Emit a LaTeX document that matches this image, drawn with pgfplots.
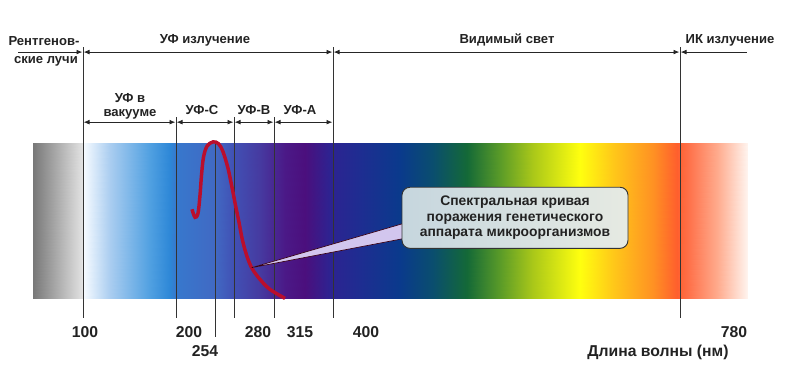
\documentclass[border=0pt]{standalone}
\usepackage{fontspec}
\setmainfont{Liberation Sans}[BoldFont={Liberation Sans Bold}]
\usepackage{pgfplots}
\pgfplotsset{compat=1.18}
\usetikzlibrary{arrows.meta}
\definecolor{txt}{HTML}{222222}
\definecolor{curvered}{HTML}{BA0E2C}
\definecolor{wedge}{HTML}{D2C6EE}
\definecolor{boxl}{HTML}{C6D6DE}
\definecolor{boxr}{HTML}{E6EAE2}
\newcommand\T{\fontsize{9.8}{11.5}\selectfont\bfseries\color{txt}}
\newcommand\TL{\fontsize{11.8}{13}\selectfont}
\newcommand\TC{\fontsize{10.4}{11.6}\selectfont}
\begin{document}
\T
\begin{tikzpicture}[every node/.style={font=\T, inner sep=0pt}]
\begin{axis}[
  width=600pt, height=291pt, scale only axis,
  xmin=0, xmax=800, ymin=0, ymax=388, y dir=reverse,
  hide axis, clip=false,
  colormap={spec}{
    rgb255(0pt)=(120,120,120) rgb255(1pt)=(225,225,225) rgb255(2pt)=(245,250,255)
    rgb255(3pt)=(170,205,240) rgb255(4pt)=(80,160,225) rgb255(5pt)=(45,135,215)
    rgb255(6pt)=(55,120,205) rgb255(7pt)=(65,105,195) rgb255(8pt)=(65,80,180)
    rgb255(9pt)=(70,58,160) rgb255(10pt)=(75,25,135) rgb255(11pt)=(75,15,125)
    rgb255(12pt)=(45,35,145) rgb255(13pt)=(30,45,145) rgb255(14pt)=(10,58,140)
    rgb255(15pt)=(10,78,110) rgb255(16pt)=(20,105,55) rgb255(17pt)=(90,155,40)
    rgb255(18pt)=(170,200,25) rgb255(19pt)=(255,255,15) rgb255(20pt)=(255,200,25)
    rgb255(21pt)=(255,145,35) rgb255(22pt)=(255,95,45) rgb255(23pt)=(255,110,70)
    rgb255(24pt)=(255,170,140) rgb255(25pt)=(255,245,240) rgb255(26pt)=(255,255,255)},
  point meta min=0, point meta max=26,
  every node/.append style={font=\T, inner sep=0pt},
  arr/.style={black!85, line width=0.7pt},
  vl/.style={black!80, line width=0.6pt},
]
% spectrum band
\addplot[patch, patch type=rectangle, shader=interp, point meta=explicit] coordinates {
 (33,143)[0] (82,143)[1] (82,298)[1] (33,298)[0]
 (82,143)[1] (84,143)[2] (84,298)[2] (82,298)[1]
 (84,143)[2] (110,143)[3] (110,298)[3] (84,298)[2]
 (110,143)[3] (150,143)[4] (150,298)[4] (110,298)[3]
 (150,143)[4] (170,143)[5] (170,298)[5] (150,298)[4]
 (170,143)[5] (176,143)[6] (176,298)[6] (170,298)[5]
 (176,143)[6] (215,143)[7] (215,298)[7] (176,298)[6]
 (215,143)[7] (234,143)[8] (234,298)[8] (215,298)[7]
 (234,143)[8] (260,143)[9] (260,298)[9] (234,298)[8]
 (260,143)[9] (285,143)[10] (285,298)[10] (260,298)[9]
 (285,143)[10] (305,143)[11] (305,298)[11] (285,298)[10]
 (305,143)[11] (330,143)[12] (330,298)[12] (305,298)[11]
 (330,143)[12] (360,143)[13] (360,298)[13] (330,298)[12]
 (360,143)[13] (400,143)[14] (400,298)[14] (360,298)[13]
 (400,143)[14] (433,143)[15] (433,298)[15] (400,298)[14]
 (433,143)[15] (467,143)[16] (467,298)[16] (433,298)[15]
 (467,143)[16] (500,143)[17] (500,298)[17] (467,298)[16]
 (500,143)[17] (533,143)[18] (533,298)[18] (500,298)[17]
 (533,143)[18] (580,143)[19] (580,298)[19] (533,298)[18]
 (580,143)[19] (613,143)[20] (613,298)[20] (580,298)[19]
 (613,143)[20] (653,143)[21] (653,298)[21] (613,298)[20]
 (653,143)[21] (677,143)[22] (677,298)[22] (653,298)[21]
 (677,143)[22] (687,143)[23] (687,298)[23] (677,298)[22]
 (687,143)[23] (717,143)[24] (717,298)[24] (687,298)[23]
 (717,143)[24] (748,143)[25] (748,298)[25] (717,298)[24]
};
% vertical lines
\addplot[vl] coordinates {(83,47) (83,318)};
\addplot[vl] coordinates {(176,117) (176,318)};
\addplot[vl] coordinates {(215,143) (215,337)};
\addplot[vl] coordinates {(234,117) (234,318)};
\addplot[vl] coordinates {(274,117) (274,318)};
\addplot[vl] coordinates {(333,47) (333,318)};
\addplot[vl] coordinates {(680,47) (680,318)};
% top arrows
\addplot[arr, -{Latex[length=4.5pt,width=3.6pt]}] coordinates {(18,52) (82.5,52)};
\addplot[arr, {Latex[length=4.5pt,width=3.6pt]}-{Latex[length=4.5pt,width=3.6pt]}] coordinates {(83.5,52) (332.5,52)};
\addplot[arr, {Latex[length=4.5pt,width=3.6pt]}-{Latex[length=4.5pt,width=3.6pt]}] coordinates {(333.5,52) (679.5,52)};
\addplot[arr, {Latex[length=4.5pt,width=3.6pt]}-] coordinates {(680.5,52) (747,52)};
% second row arrows
\addplot[arr, {Latex[length=4.5pt,width=3.6pt]}-{Latex[length=4.5pt,width=3.6pt]}] coordinates {(83.5,122) (175.5,122)};
\addplot[arr, {Latex[length=4.5pt,width=3.6pt]}-{Latex[length=4.5pt,width=3.6pt]}] coordinates {(176.5,122) (233.5,122)};
\addplot[arr, {Latex[length=4.5pt,width=3.6pt]}-{Latex[length=4.5pt,width=3.6pt]}] coordinates {(234.5,122) (273.5,122)};
\addplot[arr, {Latex[length=4.5pt,width=3.6pt]}-{Latex[length=4.5pt,width=3.6pt]}] coordinates {(274.5,122) (332.5,122)};
% curve
\addplot[curvered, line width=2.6pt, smooth, tension=0.55] coordinates {
 (192,209) (195,217) (198,213) (200,195) (201.5,175) (203.5,157) (207,146)
 (213,141.7) (218.5,143.5) (223,151.5) (228,168) (232,187) (235.5,205)
 (239,222) (242.5,240) (247,256) (252,268) (260,279) (270,289) (285,298)};
% callout
\filldraw[fill=wedge, draw=black!70!purple, line width=0.5pt]
  (axis cs:251.7,267.3) -- (axis cs:405,222.7) -- (axis cs:405,238) -- cycle;
\draw[draw=black!80, line width=0.7pt, rounded corners=6pt, left color=boxl, right color=boxr]
  (axis cs:402,187) rectangle (axis cs:628,248);
\node[align=center, font=\T\TC] at (axis cs:515,217.5) {Спектральная кривая\\поражения генетического\\аппарата микроорганизмов};
% texts
\node at (axis cs:44,41) {Рентгенов-};
\node at (axis cs:46,61) {ские лучи};
\node at (axis cs:205,40) {УФ излучение};
\node at (axis cs:507,40) {Видимый свет};
\node at (axis cs:730,40) {ИК излучение};
\node at (axis cs:130,98) {УФ в};
\node at (axis cs:130,114) {вакууме};
\node at (axis cs:202,110) {УФ-С};
\node at (axis cs:254,110) {УФ-В};
\node at (axis cs:300,110) {УФ-А};
\begin{scope}[every node/.style={font=\T\TL, inner sep=0pt}]
\node[font=\T\TL] at (axis cs:85,332) {100};
\node[font=\T\TL] at (axis cs:189,332) {200};
\node[font=\T\TL] at (axis cs:205,351) {254};
\node[font=\T\TL] at (axis cs:258,332) {280};
\node[font=\T\TL] at (axis cs:300,332) {315};
\node[font=\T\TL] at (axis cs:366,332) {400};
\node[font=\T\TL] at (axis cs:734,332) {780};
\node[font=\T\TL] at (axis cs:658,352) {Длина волны (нм)};
\end{scope}
\end{axis}
\pgfresetboundingbox
\useasboundingbox (current axis.south west) rectangle (current axis.north east);
\end{tikzpicture}
\end{document}
